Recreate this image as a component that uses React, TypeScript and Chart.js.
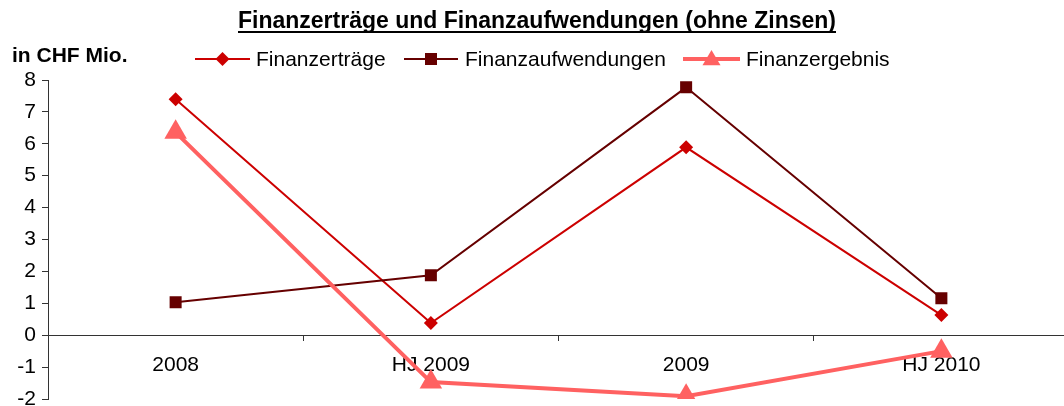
import React, { useEffect, useRef } from "react";
import { Chart, registerables } from "chart.js";

Chart.register(...registerables);

const categories = ["2008", "HJ 2009", "2009", "HJ 2010"];
const seriesNames = ["Finanzerträge", "Finanzaufwendungen", "Finanzergebnis"];
const finanzertraege = [7.4, 0.38, 5.89, 0.63];
const finanzaufwendungen = [1.03, 1.88, 7.77, 1.16];
const finanzergebnis = [6.36, -1.47, -1.91, -0.5];
const yTicks = [-2, -1, 0, 1, 2, 3, 4, 5, 6, 7, 8];
const titleText = "Finanzerträge und Finanzaufwendungen (ohne Zinsen)";
const unitText = "in CHF Mio.";

const FONT = "'Liberation Sans', Arial, sans-serif";
const C1 = "#CC0000";
const C2 = "#660000";
const C3 = "#FF6161";

function drawMarker(ctx: CanvasRenderingContext2D, kind: string, x: number, y: number, color: string) {
  ctx.save();
  ctx.fillStyle = color;
  ctx.beginPath();
  if (kind === "diamond") {
    const r = 7;
    ctx.moveTo(x, y - r);
    ctx.lineTo(x + r, y);
    ctx.lineTo(x, y + r);
    ctx.lineTo(x - r, y);
  } else if (kind === "square") {
    const s = 6;
    ctx.rect(x - s, y - s, 2 * s, 2 * s);
  } else {
    const r = 9;
    ctx.moveTo(x, y - r);
    ctx.lineTo(x + r, y + r * 0.7);
    ctx.lineTo(x - r, y + r * 0.7);
  }
  ctx.closePath();
  ctx.fill();
  ctx.restore();
}

const decor = {
  id: "decor",
  afterDraw(chart: any) {
    const ctx: CanvasRenderingContext2D = chart.ctx;
    ctx.save();
    // title
    ctx.fillStyle = "#000";
    ctx.font = `bold 23px ${FONT}`;
    ctx.textAlign = "center";
    ctx.textBaseline = "alphabetic";
    const tx = 537;
    const ty = 28;
    ctx.fillText(titleText, tx, ty);
    const w = ctx.measureText(titleText).width;
    ctx.fillRect(tx - w / 2, ty + 3, w, 2);
    // unit
    ctx.textAlign = "left";
    ctx.font = `bold 21px ${FONT}`;
    ctx.fillText(unitText, 12, 62);
    // legend
    const items = [
      { name: seriesNames[0], color: C1, kind: "diamond", x0: 195, x1: 250, tx: 256, lw: 2 },
      { name: seriesNames[1], color: C2, kind: "square", x0: 404, x1: 458, tx: 465, lw: 2 },
      { name: seriesNames[2], color: C3, kind: "triangle", x0: 683, x1: 740, tx: 746, lw: 4 },
    ];
    const ly = 59;
    ctx.font = `21px ${FONT}`;
    ctx.textBaseline = "middle";
    for (const it of items) {
      ctx.strokeStyle = it.color;
      ctx.lineWidth = it.lw;
      ctx.beginPath();
      ctx.moveTo(it.x0, ly);
      ctx.lineTo(it.x1, ly);
      ctx.stroke();
      drawMarker(ctx, it.kind, (it.x0 + it.x1) / 2, ly, it.color);
      ctx.fillStyle = "#000";
      ctx.fillText(it.name, it.tx, ly + 1);
    }
    ctx.restore();
  },
};

export default function App() {
  const ref = useRef<HTMLCanvasElement | null>(null);
  useEffect(() => {
    if (!ref.current) return;
    const chart = new Chart(ref.current, {
      type: "line",
      data: {
        labels: categories,
        datasets: [
          {
            label: seriesNames[0],
            data: finanzertraege,
            borderColor: C1,
            backgroundColor: C1,
            borderWidth: 2,
            pointStyle: "rectRot",
            pointRadius: 7,
            pointBorderWidth: 0,
            order: 3,
          },
          {
            label: seriesNames[1],
            data: finanzaufwendungen,
            borderColor: C2,
            backgroundColor: C2,
            borderWidth: 2,
            pointStyle: "rect",
            pointRadius: 8.5,
            pointBorderWidth: 0,
            order: 2,
          },
          {
            label: seriesNames[2],
            data: finanzergebnis,
            borderColor: C3,
            backgroundColor: C3,
            borderWidth: 4,
            pointStyle: "triangle",
            pointRadius: 13,
            pointBorderWidth: 0,
            order: 1,
          },
        ],
      },
      options: {
        animation: false,
        responsive: false,
        maintainAspectRatio: false,
        layout: { padding: { top: 80, left: 0, right: 1, bottom: 21 } },
        plugins: {
          legend: { display: false },
          title: { display: false },
          tooltip: { enabled: false },
        },
        scales: {
          x: {
            type: "category",
            position: { y: 0 } as any,
            offset: true,
            grid: { offset: true, drawOnChartArea: false, tickLength: 5, color: "#333" },
            border: { color: "#333", width: 1 },
            ticks: { color: "#000", font: { family: FONT, size: 21 }, padding: 12, maxRotation: 0 },
          },
          y: {
            min: -2,
            max: 8,
            afterBuildTicks: (s: any) => {
              s.ticks = yTicks.map((v) => ({ value: v }));
            },
            afterFit: (s: any) => {
              s.width = 48;
            },
            grid: { drawOnChartArea: false, tickLength: 6, color: "#333" },
            border: { color: "#333", width: 1 },
            ticks: { color: "#000", font: { family: FONT, size: 21 }, padding: 6 },
          },
        },
      },
      plugins: [decor],
    });
    return () => chart.destroy();
  }, []);
  return (
    <div style={{ position: "fixed", left: 0, top: 0, width: 1064, height: 406, overflow: "hidden", background: "#fff" }}>
      <canvas ref={ref} width={1082} height={420} style={{ display: "block", width: 1082, height: 420 }} />
    </div>
  );
}
